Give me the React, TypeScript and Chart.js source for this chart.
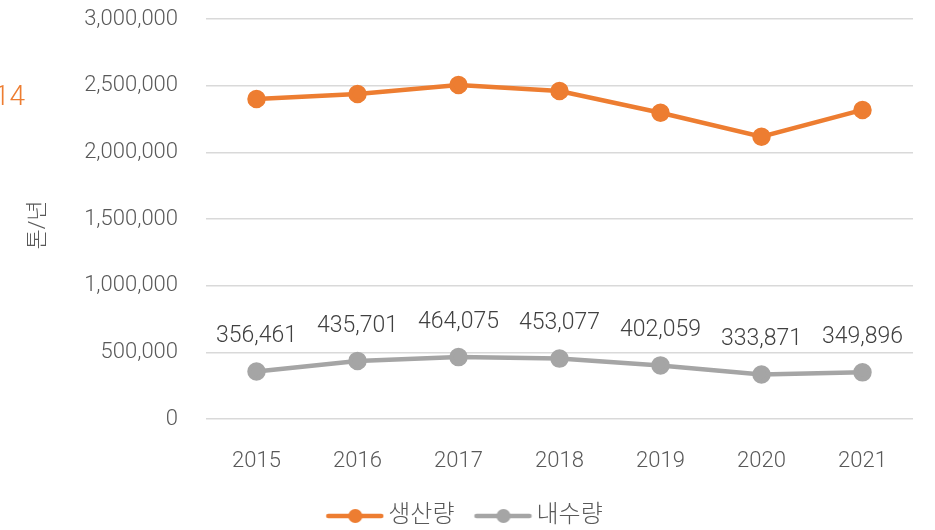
import React, { useEffect, useRef } from "react";
import { Chart, registerables } from "chart.js";

Chart.register(...registerables);

const years = ["2015", "2016", "2017", "2018", "2019", "2020", "2021"];
const production = [2400000, 2437000, 2505000, 2460000, 2297000, 2117000, 2318000];
const domestic = [356461, 435701, 464075, 453077, 402059, 333871, 349896];
const seriesNames = ["생산량", "내수량"];
const yTitle = "톤/년";
const sideText = "14";

const ORANGE = "#ED7D31";
const GRAY = "#A5A5A5";
const TEXT = "#595959";
const FONT = "Roboto, 'Noto Sans CJK KR', sans-serif";

const MW = 82;
function makeMarker(color: string) {
  const c = document.createElement("canvas");
  c.width = MW;
  c.height = 16;
  const ctx = c.getContext("2d")!;
  ctx.strokeStyle = color;
  ctx.lineWidth = 4.5;
  ctx.lineCap = "round";
  ctx.beginPath();
  ctx.moveTo(MW - 56, 8);
  ctx.lineTo(MW - 3, 8);
  ctx.stroke();
  ctx.fillStyle = color;
  ctx.beginPath();
  ctx.arc(MW - 29, 8, 7, 0, Math.PI * 2);
  ctx.fill();
  return c;
}

export default function App() {
  const ref = useRef<HTMLCanvasElement>(null);
  useEffect(() => {
    document.body.style.margin = "0";
    const markers = [makeMarker(ORANGE), makeMarker(GRAY)];
    const labelPlugin = {
      id: "labels",
      afterDatasetsDraw(chart: any) {
        const ctx = chart.ctx;
        ctx.save();
        const meta = chart.getDatasetMeta(1);
        ctx.font = `300 23px ${FONT}`;
        ctx.fillStyle = "#404040";
        ctx.textAlign = "center";
        ctx.textBaseline = "middle";
        meta.data.forEach((pt: any, i: number) => {
          ctx.fillText(domestic[i].toLocaleString("en-US"), pt.x, pt.y - 35);
        });
        ctx.font = `300 28px ${FONT}`;
        ctx.fillStyle = ORANGE;
        ctx.textAlign = "right";
        ctx.fillText(sideText, 25, 98);
        ctx.save();
        ctx.translate(38, 225);
        ctx.rotate(-Math.PI / 2);
        ctx.textAlign = "center";
        ctx.font = `300 22px ${FONT}`;
        ctx.fillStyle = TEXT;
        ctx.fillText(yTitle, 0, 0);
        ctx.restore();
        ctx.restore();
      },
    };
    const chart = new Chart(ref.current!, {
      type: "line",
      data: {
        labels: years,
        datasets: [
          {
            label: seriesNames[0],
            data: production,
            borderColor: ORANGE,
            backgroundColor: ORANGE,
            borderWidth: 4.5,
            pointRadius: 7,
            pointBackgroundColor: ORANGE,
            pointBorderColor: ORANGE,
            pointStyle: "circle",
            tension: 0,
          },
          {
            label: seriesNames[1],
            data: domestic,
            borderColor: GRAY,
            backgroundColor: GRAY,
            borderWidth: 4.5,
            pointRadius: 7,
            pointBackgroundColor: GRAY,
            pointBorderColor: GRAY,
            pointStyle: "circle",
            tension: 0,
          },
        ],
      },
      options: {
        animation: false,
        responsive: false,
        layout: { autoPadding: false, padding: { top: 19, right: 22, left: 0, bottom: -8 } },
        plugins: {
          legend: {
            position: "bottom",
            labels: {
              usePointStyle: true,
              pointStyleWidth: 66,
              font: { family: FONT, size: 24, weight: "300" as any },
              color: TEXT,
              padding: 4,
              generateLabels: (chart: any) =>
                chart.data.datasets.map((ds: any, i: number) => ({
                  text: ds.label,
                  pointStyle: markers[i],
                  fillStyle: ds.borderColor,
                  strokeStyle: ds.borderColor,
                  fontColor: TEXT,
                  datasetIndex: i,
                  hidden: false,
                  lineWidth: 0,
                })),
            },
          },
          tooltip: { enabled: false },
        },
        scales: {
          x: {
            offset: true,
            grid: { display: false },
            border: { display: false },
            afterFit: (s: any) => {
              s.height = 81;
              s.paddingLeft = 0;
              s.paddingRight = 0;
            },
            ticks: { font: { family: FONT, size: 22, weight: "300" as any }, color: TEXT, padding: 21 },
          },
          y: {
            min: 0,
            max: 3000000,
            afterFit: (s: any) => {
              s.width = 206;
              s.paddingTop = 0;
              s.paddingBottom = 0;
            },
            ticks: {
              stepSize: 500000,
              font: { family: FONT, size: 22, weight: "300" as any },
              color: TEXT,
              padding: 28,
              callback: (v: any) => Number(v).toLocaleString("en-US"),
            },
            grid: { color: "#D9D9D9", lineWidth: 1.5, drawTicks: false },
            border: { display: false },
          },
        },
      },
      plugins: [labelPlugin],
    });
    return () => chart.destroy();
  }, []);
  return <canvas ref={ref} width={935} height={530} style={{ display: "block" }} />;
}
